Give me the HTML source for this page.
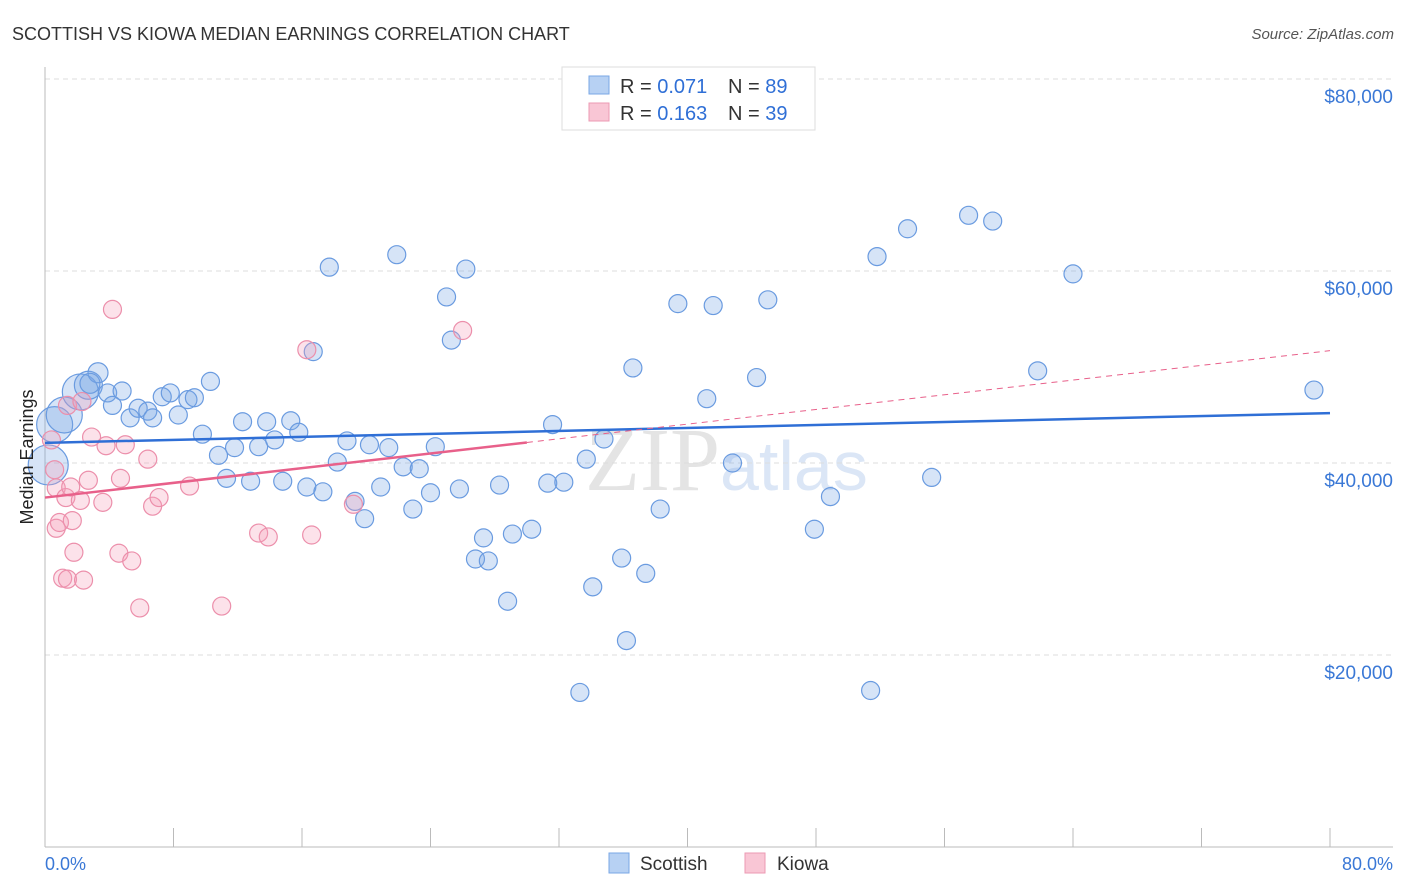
<!DOCTYPE html>
<html><head><meta charset="utf-8"><style>
body{margin:0;background:#fff;font-family:"Liberation Sans",sans-serif;}
svg{display:block}
</style></head><body>
<svg id="chart" width="1406" height="892">
<text x="12" y="40" font-size="18" fill="#333">SCOTTISH VS KIOWA MEDIAN EARNINGS CORRELATION CHART</text>
<text x="1394" y="39" font-size="15" fill="#555" font-style="italic" text-anchor="end">Source: ZipAtlas.com</text>
<text x="720" y="490" font-size="90" fill="#e4e4e4" text-anchor="end" font-family="Liberation Serif">ZIP</text>
<text x="720" y="490" font-size="70" fill="#dbe6f6">atlas</text>
<g id="grid"></g><g id="axes"></g><g id="pts"></g><g id="trend"></g>
<g>
<rect x="562" y="67" width="253" height="63" fill="#fff" stroke="#ddd"/>
<rect x="589" y="76" width="20" height="18" fill="#b7d1f3" stroke="#7aa7e6"/>
<rect x="589" y="103" width="20" height="18" fill="#f9c6d5" stroke="#ec9ab3"/>
<text x="620" y="93" font-size="20" fill="#333">R = <tspan fill="#2f6fd6">0.071</tspan></text>
<text x="728" y="93" font-size="20" fill="#333">N = <tspan fill="#2f6fd6">89</tspan></text>
<text x="620" y="120" font-size="20" fill="#333">R = <tspan fill="#2f6fd6">0.163</tspan></text>
<text x="728" y="120" font-size="20" fill="#333">N = <tspan fill="#2f6fd6">39</tspan></text>
</g>
<text x="33" y="457" font-size="18" fill="#222" text-anchor="middle" transform="rotate(-90 33 457)">Median Earnings</text>
<text x="45" y="870" font-size="18" fill="#3a78d6">0.0%</text>
<text x="1393" y="870" font-size="18" fill="#3a78d6" text-anchor="end">80.0%</text>
<g>
<rect x="609" y="853" width="20" height="20" fill="#b7d1f3" stroke="#7aa7e6"/>
<text x="640" y="870" font-size="19" fill="#333">Scottish</text>
<rect x="745" y="853" width="20" height="20" fill="#f9c6d5" stroke="#ec9ab3"/>
<text x="777" y="870" font-size="19" fill="#333">Kiowa</text>
</g>
</svg>
<script>
const yTicks=[20000,40000,60000,80000];
const yTickLabels=["$20,000","$40,000","$60,000","$80,000"];
const xTicks=[0,8,16,24,32,40,48,56,64,72,80];
const scotX=[0.2,0.6,1.2,2.2,2.7,3.3,2.8,3.9,4.2,4.8,5.3,5.8,6.4,6.7,7.3,7.8,8.3,8.9,9.3,10.3,9.8,10.8,11.3,11.8,12.3,12.8,13.3,13.8,14.3,14.8,15.3,15.8,16.3,16.7,17.3,17.7,18.2,18.8,19.3,19.9,20.2,20.9,21.4,21.9,22.3,22.9,23.3,24.0,24.3,25.0,25.3,25.8,26.2,26.8,27.3,27.6,28.3,28.8,29.1,30.3,31.3,31.6,32.3,33.3,33.7,34.1,34.8,35.9,36.2,36.6,37.4,38.3,39.4,41.2,41.6,42.8,44.3,45.0,47.9,48.9,51.8,51.4,53.7,55.2,57.5,59.0,61.8,64.0,79.0];
const scotY=[39800,44000,45000,47400,48100,49400,48300,47300,46000,47500,44700,45700,45400,44700,46900,47300,45000,46600,46800,48500,43000,40800,38400,41600,44300,38100,41700,44300,42400,38100,44400,43200,37500,51600,37000,60400,40100,42300,36000,34200,41900,37500,41600,61700,39600,35200,39400,36900,41700,57300,52800,37300,60200,30000,32200,29800,37700,25600,32600,33100,37900,44000,38000,16100,40400,27100,42500,30100,21500,49900,28500,35200,56600,46700,56400,40000,48900,57000,33100,36500,61500,16300,64400,38500,65800,65200,49600,59700,47600];
const scotSize=[20,18,18,18,14,10,10,9,9,9,9,9,9,9,9,9,9,9,9,9,9,9,9,9,9,9,9,9,9,9,9,9,9,9,9,9,9,9,9,9,9,9,9,9,9,9,9,9,9,9,9,9,9,9,9,9,9,9,9,9,9,9,9,9,9,9,9,9,9,9,9,9,9,9,9,9,9,9,9,9,9,9,9,9,9,9,9,9,9];
const kioX=[0.4,0.6,0.7,0.7,0.9,1.1,1.3,1.4,1.6,1.7,1.8,1.4,2.2,2.3,2.4,2.7,2.9,3.6,3.8,4.6,4.7,5.0,5.4,5.9,6.4,6.7,7.1,9.0,11.0,13.3,13.9,16.3,16.6,19.2,26.0,4.2];
const kioY=[42400,39300,37400,33200,33800,28000,36400,27900,37500,34000,30700,46000,36100,46400,27800,38200,42700,35900,41800,30600,38400,41900,29800,24900,40400,35500,36400,37600,25100,32700,32300,51800,32500,35700,53800,56000];
const scotTrend=[42100,45200];
const kioTrend=[36400,51700];
const X=v=>45+v/80*1285, Y=v=>847-v/20000*192;
const NS="http://www.w3.org/2000/svg";
function mk(parent,tag,attrs){const e=document.createElementNS(NS,tag);for(const k in attrs)e.setAttribute(k,attrs[k]);document.getElementById(parent).appendChild(e);return e;}
let e=mk('grid','line',{x1:45,x2:1393,y1:Y(80000),y2:Y(80000),stroke:'#ddd','stroke-dasharray':'5,4'});
yTicks.forEach((t,i)=>{
 e=mk('grid','line',{x1:45,x2:1393,y1:Y(t),y2:Y(t),stroke:'#ddd','stroke-dasharray':'5,4'});
 
 
 e=mk('grid','text',{x:1393,y:Y(t)+24,'font-size':19,fill:'#3a78d6','text-anchor':'end'});
 e.textContent=yTickLabels[i];
 
 
});
e=mk('axes','line',{x1:45,x2:45,y1:67,y2:847,stroke:'#bbb'});


e=mk('axes','line',{x1:45,x2:1393,y1:847,y2:847,stroke:'#bbb'});


xTicks.forEach(t=>{
 e=mk('axes','line',{x1:X(t),x2:X(t),y1:828,y2:847,stroke:'#bbb'});
 
 
});
scotX.forEach((x,i)=>{
 e=mk('pts','circle',{cx:X(x),cy:Y(scotY[i]),r:scotSize[i],fill:'rgba(120,165,230,0.3)',stroke:'#6a9be0','stroke-width':1.2});
 
 
});
kioX.forEach((x,i)=>{
 e=mk('pts','circle',{cx:X(x),cy:Y(kioY[i]),r:9,fill:'rgba(245,160,185,0.3)',stroke:'#ec8fab','stroke-width':1.2});
 
 
});
e=mk('trend','line',{x1:X(0),x2:X(80),y1:Y(scotTrend[0]),y2:Y(scotTrend[1]),stroke:'#2f6fd6','stroke-width':2.5});


const kAt=x=>kioTrend[0]+(kioTrend[1]-kioTrend[0])*x/80;
e=mk('trend','line',{x1:X(0),x2:X(30),y1:Y(kAt(0)),y2:Y(kAt(30)),stroke:'#e8608a','stroke-width':2.5});


e=mk('trend','line',{x1:X(30),x2:X(80),y1:Y(kAt(30)),y2:Y(kAt(80)),stroke:'#e8608a','stroke-width':1,'stroke-dasharray':'6,5'});


</script>
</body></html>
